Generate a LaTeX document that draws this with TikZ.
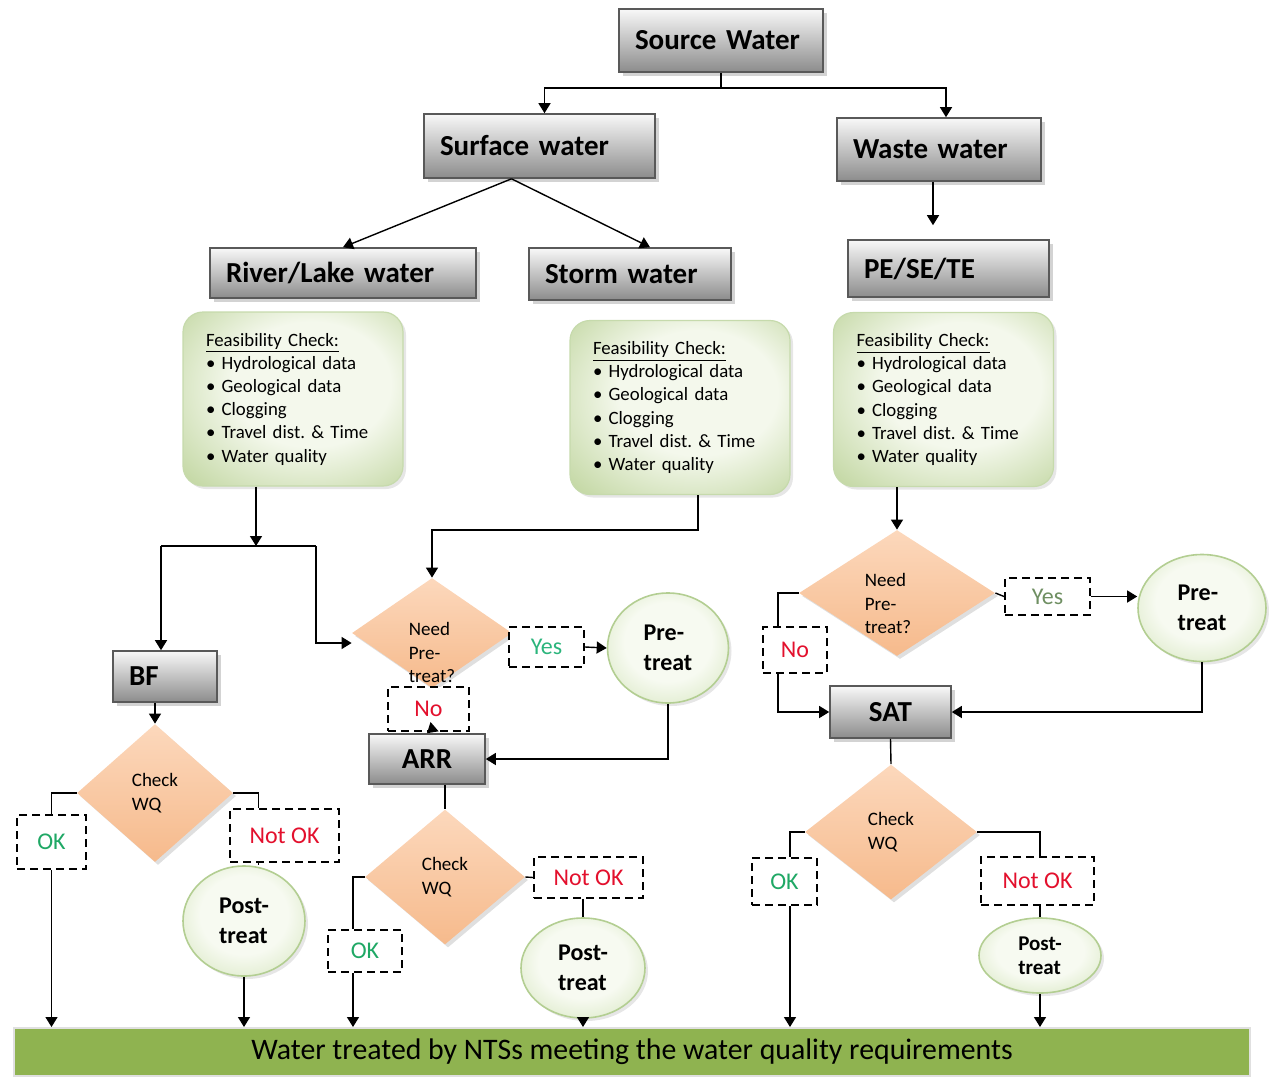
\documentclass[tikz,border=0pt]{standalone}
\usepackage{fontspec}
\setmainfont{Carlito}
\usetikzlibrary{shapes.geometric, arrows.meta, shadows, calc}

\definecolor{boxedge}{HTML}{595959}
\definecolor{gtop}{HTML}{F8F8F8}
\definecolor{gbot}{HTML}{8C8C8C}
\definecolor{feasin}{HTML}{F4F8EC}
\definecolor{feasout}{HTML}{B2CC8A}
\definecolor{feasedge}{HTML}{C6DAAC}
\definecolor{dtop}{HTML}{FCD8BC}
\definecolor{dbot}{HTML}{F6BA8C}
\definecolor{treatin}{HTML}{F7FAF1}
\definecolor{treatout}{HTML}{C9DEAB}
\definecolor{treatedge}{HTML}{B3CE92}
\definecolor{okgreen}{HTML}{1FA865}
\definecolor{yesgreen}{HTML}{2BB57C}
\definecolor{yesgrey}{HTML}{6F8F62}
\definecolor{notred}{HTML}{E3102D}
\definecolor{barfill}{HTML}{8FB350}

\pgfdeclareradialshading{feasshade}{\pgfpoint{6bp}{6bp}}{color(0bp)=(feasin); color(18bp)=(feasin); color(44bp)=(feasout); color(60bp)=(feasout)}
\pgfdeclareradialshading{treatshade}{\pgfpoint{0bp}{4bp}}{color(0bp)=(treatin); color(18bp)=(treatin); color(42bp)=(treatout); color(60bp)=(treatout)}

\newcommand{\feasitems}{\underline{Feasibility Check:}\\
  \textbullet\ Hydrological data\\
  \textbullet\ Geological data\\
  \textbullet\ Clogging\\
  \textbullet\ Travel dist.\ \& Time\\
  \textbullet\ Water quality}
% question text set lower in the diamond without growing it
\newcommand{\lowq}[2]{\raisebox{#1}[0pt][0pt]{\begin{tabular}{@{}l@{}}Need\\Pre-\\treat?\end{tabular}}\hspace*{#2}}

\begin{document}
\begin{tikzpicture}[x=0.5pt, y=-0.5pt,
  gbox/.style={rectangle, draw=boxedge, line width=0.8pt, top color=gtop, bottom color=gbot,
    text width=#1, inner xsep=8pt, align=left, font=\fontsize{14.5}{17}\selectfont\bfseries,
    drop shadow={shadow xshift=2pt, shadow yshift=-2pt, opacity=0.35}},
  feas/.style={rectangle, rounded corners=10pt, draw=feasedge, line width=0.6pt,
    shading=feasshade, text width=87pt, minimum height=87pt,
    inner xsep=11.5pt, align=left, font=\fontsize{9.4}{11.6}\selectfont,
    drop shadow={shadow xshift=1.5pt, shadow yshift=-1.5pt, opacity=0.2}},
  decision/.style={diamond, draw=none, top color=dtop, bottom color=dbot, inner sep=0pt,
    align=left, font=\fontsize{9.5}{11.8}\selectfont,
    drop shadow={shadow xshift=1.5pt, shadow yshift=-1.5pt, opacity=0.25}},
  treat/.style={ellipse, draw=treatedge, line width=0.8pt, shading=treatshade,
    inner sep=0pt, align=left, font=\fontsize{12}{15}\selectfont\bfseries,
    drop shadow={shadow xshift=1.5pt, shadow yshift=-1.5pt, opacity=0.2}},
  answer/.style={rectangle, draw, dash pattern=on 4pt off 2.5pt, line width=0.9pt, fill=white,
    inner sep=0pt, font=\fontsize{12}{14}\selectfont},
  bar/.style={rectangle, fill=barfill, draw=black!12, line width=1pt, minimum width=618pt,
    minimum height=24pt, font=\fontsize{14.9}{16}\selectfont},
  conn/.style={draw=black, line width=0.7pt},
  arr/.style={conn, -{Triangle[width=6pt,length=5pt]}}
]
  \useasboundingbox (0,0) rectangle (1270,1077);

  % grey boxes
  \node[gbox=86pt, minimum height=31.5pt] (src) at (721,40.5) {Source Water};
  \node[gbox=99.5pt, minimum height=32pt] (sfc) at (539.5,146) {Surface water};
  \node[gbox=86pt, minimum height=31.5pt] (waste) at (939,149.5) {Waste water};
  \node[gbox=117pt, minimum height=25pt] (river) at (343,273) {River/Lake water};
  \node[gbox=85pt, minimum height=26pt] (storm) at (630,274) {Storm water};
  \node[gbox=84.5pt, minimum height=28.5pt] (pese) at (948.5,268.5) {PE/SE/TE};
  \node[gbox=36pt, minimum height=25.5pt] (bf) at (165,676.5) {BF};
  \node[gbox=42pt, minimum height=25pt, align=center] (arr) at (427,759) {ARR};
  \node[gbox=44.5pt, minimum height=26pt, align=center] (sat) at (890.5,712) {SAT};

  % feasibility checks
  \node[feas] (lfeas) at (293,399) {\feasitems};
  \node[feas] (mfeas) at (680,407.5) {\feasitems};
  \node[feas] (rfeas) at (943.5,399.5) {\feasitems};

  % decisions
  \node[decision, minimum width=80pt, minimum height=55pt] (midNeed) at (432,633) {\lowq{-13pt}{0pt}};
  \node[decision, minimum width=98pt, minimum height=63pt] (rNeed) at (897,593) {\lowq{-8.5pt}{9pt}};
  \node[decision, minimum width=78pt, minimum height=69pt] (bfChk) at (155,793) {Check\\WQ};
  \node[decision, minimum width=80pt, minimum height=67.5pt] (arrChk) at (445,877) {Check\\WQ};
  \node[decision, minimum width=86pt, minimum height=67.5pt] (satChk) at (891,832) {Check\\WQ};

  % treatments
  \node[treat, minimum width=60.5pt, minimum height=55pt] (midPre) at (668,648) {Pre-\\treat};
  \node[treat, minimum width=64pt, minimum height=53.5pt] (rPre) at (1202,608) {Pre-\\treat};
  \node[treat, minimum width=61pt, minimum height=55pt] (bfPost) at (244,921) {Post-\\treat};
  \node[treat, minimum width=62pt, minimum height=50pt] (arrPost) at (583,968) {Post-\\treat};
  \node[treat, minimum width=61pt, minimum height=37.5pt, font=\fontsize{10.5}{12}\selectfont\bfseries] (satPost) at (1040,955.5) {Post-\\treat};

  % answers
  \node[answer, minimum width=37.5pt, minimum height=20pt, text=yesgreen] (midYes) at (546.5,647) {Yes};
  \node[answer, minimum width=40.5pt, minimum height=22pt, text=notred] (midNo) at (428.5,709) {No};
  \node[answer, minimum width=34.5pt, minimum height=27pt, text=okgreen] (bfOK) at (51.5,842) {OK};
  \node[answer, minimum width=54.5pt, minimum height=26.5pt, text=notred] (bfNot) at (284.5,835.5) {Not OK};
  \node[answer, minimum width=37pt, minimum height=21pt, text=okgreen] (arrOK) at (365,951) {OK};
  \node[answer, minimum width=54.5pt, minimum height=20.5pt, text=notred] (arrNot) at (588.5,877.5) {Not OK};
  \node[answer, minimum width=42.5pt, minimum height=18.5pt, text=yesgrey] (rYes) at (1047.5,596.5) {Yes};
  \node[answer, minimum width=32pt, minimum height=23pt, text=notred] (rNo) at (795,650) {No};
  \node[answer, minimum width=32.5pt, minimum height=23.5pt, text=okgreen] (satOK) at (784.5,881.5) {OK};
  \node[answer, minimum width=56.5pt, minimum height=24pt, text=notred] (satNot) at (1037.5,881) {Not OK};

  % result
  \node[bar] (bar) at (632,1052) {Water treated by NTSs meeting the water quality requirements};

  % top part
  \coordinate (srcj) at (721,88);
  \draw[conn] (src.south) -- (srcj);
  \draw[arr] (srcj) -| ([xshift=2.5pt]sfc.north);
  \draw[arr] (srcj) -| ([xshift=3.5pt]waste.north);
  \draw[arr] ([xshift=-14pt]sfc.south) -- (river.north);
  \draw[arr] ([xshift=-14pt]sfc.south) -- ([xshift=10pt]storm.north);
  \draw[arr, shorten >=7pt] ([xshift=-3pt]waste.south) -- ([xshift=-3pt]waste.south |- pese.north);

  % river / lake branch
  \coordinate (lfj) at (256,546);
  \coordinate (lfl) at (161,546);
  \coordinate (lfr) at (316,546);
  \draw[arr] ([xshift=-18.5pt]lfeas.south) -- (lfj);
  \draw[conn] (lfl) -- (lfr);
  \draw[arr] (lfl) -- (lfl |- bf.north);
  \draw[arr] (lfr) |- ([yshift=-5pt]midNeed.west);
  \draw[arr] (bfChk.north |- bf.south) -- (bfChk.north);
  \draw[conn] (bfChk.west) -| (bfOK.north);
  \draw[arr] (bfOK.south) -- (bfOK.south |- bar.north);
  \draw[conn] (bfChk.east) -| ([xshift=-13pt]bfNot.north);
  \draw[conn] ([xshift=-13pt]bfNot.south) -- ([xshift=-13pt]bfNot.south |- bfPost.north);
  \draw[arr] (bfPost.south) -- (bfPost.south |- bar.north);

  % storm water branch
  \coordinate (mfj) at (698,530);
  \draw[arr] (mfeas.south -| mfj) -- (mfj) -| (midNeed.north);
  \draw[arr] (midYes.east) -- (midPre.west);
  \draw[arr] (midNo.south) -- (arr.north);
  \draw[arr] (midPre.south) |- (arr.east);
  \draw[conn] (arrChk.north |- arr.south) -- (arrChk.north);
  \draw[conn] (arrChk.west) -| ([xshift=-6pt]arrOK.north);
  \draw[arr] ([xshift=-6pt]arrOK.south) -- ([xshift=-6pt]arrOK.south |- bar.north);
  \draw[conn] (arrChk.east) -- (arrNot.west);
  \draw[conn] (arrPost.north |- arrNot.south) -- (arrPost.north);
  \draw[arr] (arrPost.south) -- (arrPost.south |- bar.north);

  % waste water branch
  \draw[arr] (rNeed.north |- rfeas.south) -- (rNeed.north);
  \draw[conn] (rNeed.east) -- (rYes.west);
  \draw[arr] (rYes.east) -- (rYes.east -| rPre.west);
  \draw[conn] (rNeed.west) -| ([xshift=-8.5pt]rNo.north);
  \draw[arr] ([xshift=-8.5pt]rNo.south) |- (sat.west);
  \draw[arr] (rPre.south) |- (sat.east);
  \draw[conn] (sat.south) -- (satChk.north);
  \draw[conn] (satChk.west) -| ([xshift=2.75pt]satOK.north);
  \draw[arr] ([xshift=2.75pt]satOK.south) -- ([xshift=2.75pt]satOK.south |- bar.north);
  \draw[conn] (satChk.east) -| ([xshift=1.25pt]satNot.north);
  \draw[conn] (satPost.north |- satNot.south) -- (satPost.north);
  \draw[arr] (satPost.south) -- (satPost.south |- bar.north);
\end{tikzpicture}
\end{document}
